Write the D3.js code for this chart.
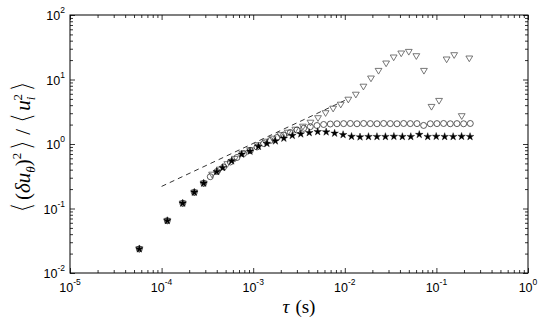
<!DOCTYPE html>
<html><head><meta charset="utf-8">
<script src="https://cdn.jsdelivr.net/npm/d3@7"></script>
<style>body{margin:0;background:#fff}svg{display:block}</style>
</head><body>
<svg id="c" width="540" height="320"></svg>
<script>
// ---- data ----
const xStar = [5.71e-5,1.154e-4,1.70e-4,2.275e-4,2.88e-4,4.0e-4,4.645e-4,5.825e-4,7.49e-4,9.23e-4,1.141e-3,1.412e-3,1.747e-3,2.161e-3,2.673e-3,3.307e-3,4.091e-3,5.06e-3,6.26e-3,7.745e-3,9.58e-3,1.185e-2,1.466e-2,1.814e-2,2.244e-2,2.776e-2,3.435e-2,4.249e-2,5.256e-2,6.50e-2,8.04e-2,9.95e-2,0.1231,0.1523,0.1884,0.2330];
const yStar = [0.0236,0.0647,0.1205,0.178,0.246,0.372,0.430,0.545,0.692,0.770,0.915,1.018,1.113,1.226,1.354,1.429,1.497,1.551,1.535,1.465,1.394,1.307,1.284,1.30,1.30,1.30,1.31,1.30,1.30,1.40,1.30,1.31,1.30,1.30,1.31,1.30];
const xCircle = [5.71e-5,1.154e-4,1.70e-4,2.275e-4,2.88e-4,3.40e-4,4.026e-4,4.760e-4,5.628e-4,6.655e-4,7.869e-4,9.30e-4,1.100e-3,1.301e-3,1.538e-3,1.818e-3,2.150e-3,2.542e-3,3.006e-3,3.554e-3,4.202e-3,4.969e-3,5.875e-3,6.947e-3,8.214e-3,9.714e-3,1.149e-2,1.358e-2,1.606e-2,1.899e-2,2.245e-2,2.655e-2,3.139e-2,3.712e-2,4.389e-2,5.189e-2,6.136e-2,7.256e-2,8.579e-2,0.1014,0.1199,0.1418,0.1677,0.1983,0.2344];
const yCircle = [0.0236,0.0647,0.1205,0.178,0.246,0.311,0.375,0.440,0.526,0.618,0.712,0.793,0.899,1.018,1.133,1.261,1.379,1.508,1.648,1.752,1.855,1.935,2.006,2.042,2.06,2.07,2.08,2.06,2.08,2.07,2.06,2.08,2.07,2.06,2.08,2.07,2.07,1.94,2.06,2.07,2.08,2.06,2.07,2.06,2.08];
const xTri = [5.71e-5,1.154e-4,1.70e-4,2.275e-4,2.88e-4,3.557e-4,4.309e-4,5.215e-4,6.306e-4,7.625e-4,9.22e-4,1.115e-3,1.349e-3,1.631e-3,1.972e-3,2.385e-3,2.884e-3,3.488e-3,4.219e-3,5.10e-3,6.17e-3,7.46e-3,9.03e-3,1.092e-2,1.320e-2,1.597e-2,1.931e-2,2.335e-2,2.825e-2,3.416e-2,4.131e-2,4.995e-2,6.04e-2,7.31e-2,8.84e-2,0.1069,0.1293,0.1563,0.189,0.2286];
const yTri = [0.0236,0.0647,0.1205,0.178,0.246,0.337,0.403,0.490,0.592,0.712,0.807,0.965,1.093,1.217,1.379,1.508,1.678,1.868,2.154,2.530,3.024,3.551,4.098,4.897,5.853,7.79,10.43,13.69,17.83,22.09,25.48,26.98,23.13,13.69,3.786,4.69,20.57,23.98,2.718,21.31];
const xDash = [1e-4, 1e-2];
const yDash = [0.22, 4.74];
const xMajor = [1e-5,1e-4,1e-3,1e-2,1e-1,1];
const xExp = ["-5","-4","-3","-2","-1","0"];
const yMajor = [1e-2,1e-1,1,10,100];
const yExp = ["-2","-1","0","1","2"];

// ---- layout ----
const L=70, R=528, T=15, B=273;
const svg = d3.select("#c");
const x = d3.scaleLog().domain([1e-5,1]).range([L,R]);
const y = d3.scaleLog().domain([1e-2,1e2]).range([B,T]);

function minors(scale){
  const [a,b]=scale.domain(); const out=[];
  for(let e=Math.round(Math.log10(a)); e<Math.round(Math.log10(b)); e++)
    for(let m=2;m<=9;m++) out.push(m*Math.pow(10,e));
  return out;
}
const g = svg.append("g");
function addAxis(axisFn, scale, vals, len, tr){
  g.append("g").attr("transform",tr)
    .call(axisFn(scale).tickValues(vals).tickSizeInner(len).tickSizeOuter(0).tickFormat(""))
    .call(s=>{s.select(".domain").remove(); s.selectAll("line").attr("stroke","#000").attr("stroke-width",0.8);});
}
addAxis(d3.axisBottom, x, xMajor, -5, `translate(0,${B})`);
addAxis(d3.axisBottom, x, minors(x), -3, `translate(0,${B})`);
addAxis(d3.axisTop, x, xMajor, -5, `translate(0,${T})`);
addAxis(d3.axisTop, x, minors(x), -3, `translate(0,${T})`);
addAxis(d3.axisLeft, y, yMajor, -5, `translate(${L},0)`);
addAxis(d3.axisLeft, y, minors(y), -3, `translate(${L},0)`);
addAxis(d3.axisRight, y, yMajor, -5, `translate(${R},0)`);
addAxis(d3.axisRight, y, minors(y), -3, `translate(${R},0)`);
g.append("rect").attr("x",L).attr("y",T).attr("width",R-L).attr("height",B-T)
  .attr("fill","none").attr("stroke","#000").attr("stroke-width",1);

// tick labels
const lblFont = "Liberation Sans, Arial, Helvetica, sans-serif";
xMajor.forEach((v,i)=>{
  const t = svg.append("text").attr("x",x(v)).attr("y",B+19).attr("text-anchor","middle")
    .attr("font-family",lblFont).attr("font-size",12.5).attr("fill","#000");
  t.append("tspan").text("10");
  t.append("tspan").attr("dy",-7).attr("font-size",8.5).text(xExp[i]);
});
yMajor.forEach((v,i)=>{
  const t = svg.append("text").attr("x",L-5).attr("y",y(v)+5).attr("text-anchor","end")
    .attr("font-family",lblFont).attr("font-size",12.5).attr("fill","#000");
  t.append("tspan").text("10");
  t.append("tspan").attr("dy",-7).attr("font-size",8.5).text(yExp[i]);
});

// axis titles
const serif = "Liberation Serif, DejaVu Serif, serif";
const xt = svg.append("text").attr("x",(L+R)/2).attr("y",313).attr("text-anchor","middle")
  .attr("font-family",serif).attr("font-size",19).attr("fill","#000");
xt.append("tspan").attr("font-style","italic").text("τ");
xt.append("tspan").attr("dx",6).text("(s)");

const yt = svg.append("text").attr("transform",`translate(30,${(T+B)/2+3}) rotate(-90)`)
  .attr("text-anchor","middle").attr("font-family",serif).attr("font-size",21).attr("fill","#000");
const br = "DejaVu Sans, sans-serif";
const bs = 28;
function bracket(sel){ return sel.attr("font-family",br).attr("font-size",bs)
  .attr("stroke","#fff").attr("stroke-width",1.1); }
bracket(yt.append("tspan")).attr("dy",1).text("⟨");
yt.append("tspan").attr("dx",2).attr("dy",-1).text("(");
yt.append("tspan").attr("font-style","italic").text("δu");
yt.append("tspan").attr("font-style","italic").attr("font-size",13).attr("dy",5).text("θ");
yt.append("tspan").attr("dy",-5).text(")");
yt.append("tspan").attr("font-size",13).attr("dy",-9).text("2");
bracket(yt.append("tspan")).attr("dx",2).attr("dy",10).text("⟩");
yt.append("tspan").attr("dy",-1).text(" / ");
bracket(yt.append("tspan")).attr("dy",1).text("⟨");
yt.append("tspan").attr("font-style","italic").attr("dx",2).attr("dy",-1).text("u");
yt.append("tspan").attr("font-style","italic").attr("font-size",13).attr("dy",5).text("i");
yt.append("tspan").attr("font-size",13).attr("dy",-13).attr("dx",-4).text("2");
bracket(yt.append("tspan")).attr("dx",2).attr("dy",9).text("⟩");

// ---- data marks ----
const plot = svg.append("g");
const dashData = xDash.map((v,i)=>[v,yDash[i]]);
plot.append("path").datum(dashData)
  .attr("d", d3.line().x(d=>x(d[0])).y(d=>y(d[1])))
  .attr("fill","none").attr("stroke","#000").attr("stroke-width",0.8).attr("stroke-dasharray","5,4");

const triPath = "M-3.4,-2.3L3.4,-2.3L0,3.4Z";
plot.append("g").selectAll("path").data(xTri.map((v,i)=>[v,yTri[i]])).join("path")
  .attr("transform",d=>`translate(${x(d[0])},${y(d[1])})`).attr("d",triPath)
  .attr("fill","none").attr("stroke","#555").attr("stroke-width",0.8);

plot.append("g").selectAll("circle").data(xCircle.map((v,i)=>[v,yCircle[i]])).join("circle")
  .attr("cx",d=>x(d[0])).attr("cy",d=>y(d[1])).attr("r",3)
  .attr("fill","none").attr("stroke","#333").attr("stroke-width",0.8);

const star = d3.symbol().type(d3.symbolStar).size(18);
plot.append("g").selectAll("path").data(xStar.map((v,i)=>[v,yStar[i]])).join("path")
  .attr("transform",d=>`translate(${x(d[0])},${y(d[1])})`).attr("d",star)
  .attr("fill","#000").attr("stroke","#000").attr("stroke-width",0.4);
</script>
</body></html>
